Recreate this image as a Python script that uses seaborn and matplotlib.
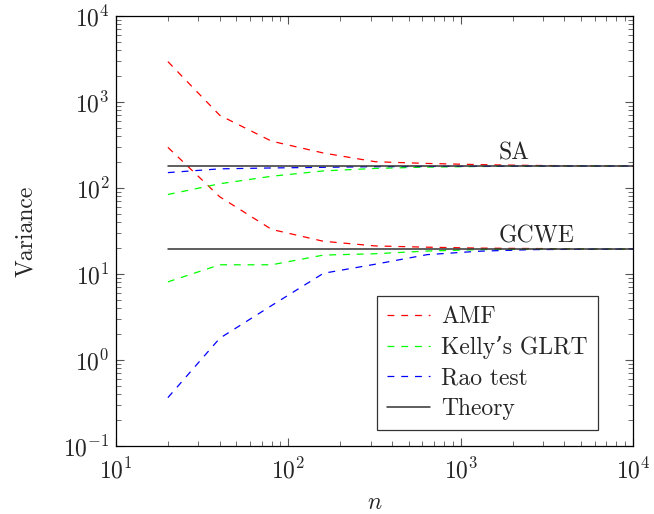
import numpy as np
import pandas as pd
import matplotlib
matplotlib.use("Agg")
import matplotlib.pyplot as plt
from matplotlib.lines import Line2D
import seaborn as sns
from matplotlib.ticker import LogLocator, NullFormatter

# ---- data ----
n = [20, 40, 80, 160, 320, 640, 1280, 2560, 5120, 10000]
amf_sa = [2950, 700, 350, 255, 202, 193, 187, 183, 181, 180]
kelly_sa = [84, 112, 137, 158, 169, 175, 178, 179, 180, 180]
rao_sa = [151, 167, 171, 174, 177, 178, 179, 180, 180, 180]
amf_gcwe = [297, 79, 33, 24, 21.2, 20.5, 20.0, 19.8, 19.6, 19.5]
kelly_gcwe = [8.1, 12.8, 12.8, 16.6, 17.2, 18.5, 19.2, 19.4, 19.5, 19.5]
rao_gcwe = [0.365, 1.79, 4.3, 10.2, 13.0, 16.8, 18.4, 19.2, 19.4, 19.5]
theory_n = [20, 10000]
theory_sa = [180, 180]
theory_gcwe = [19.5, 19.5]
labels = ["AMF", "Kelly\u2019s GLRT", "Rao test", "Theory"]
colors = ["#ff0000", "#00ff00", "#0000ff", "#333333"]

sns.set_style("ticks")
plt.rcParams["font.family"] = ["cmr10", "DejaVu Serif"]
plt.rcParams["mathtext.fontset"] = "cm"
plt.rcParams["axes.formatter.use_mathtext"] = True
plt.rcParams["axes.unicode_minus"] = False
FS = 17

fig = plt.figure(figsize=(6.54, 5.14), dpi=100)
ax = fig.add_axes([116/654, 1-446/514, (633-116)/654, (446-16)/514])

lw = 0.9
dash = (0, (5.5, 5.5))
series = [
    (amf_sa, colors[0]), (amf_gcwe, colors[0]),
    (kelly_sa, colors[1]), (kelly_gcwe, colors[1]),
    (rao_sa, colors[2]), (rao_gcwe, colors[2]),
]
for vals, col in series:
    df = pd.DataFrame({"n": n, "v": vals})
    sns.lineplot(data=df, x="n", y="v", ax=ax, color=col, lw=lw,
                 linestyle=dash, legend=False)
for vals in [theory_sa, theory_gcwe]:
    df = pd.DataFrame({"n": theory_n, "v": vals})
    sns.lineplot(data=df, x="n", y="v", ax=ax, color=colors[3], lw=1.1,
                 legend=False)

ax.set_xscale("log")
ax.set_yscale("log")
ax.set_xlim(10, 1e4)
ax.set_ylim(0.1, 1e4)
ax.xaxis.set_major_locator(LogLocator(base=10, numticks=10))
ax.yaxis.set_major_locator(LogLocator(base=10, numticks=10))
ax.xaxis.set_minor_locator(LogLocator(base=10, subs=np.arange(2, 10), numticks=20))
ax.yaxis.set_minor_locator(LogLocator(base=10, subs=np.arange(2, 10), numticks=20))
ax.xaxis.set_minor_formatter(NullFormatter())
ax.yaxis.set_minor_formatter(NullFormatter())
ax.tick_params(which="both", direction="in", top=True, right=True,
               color="#555555", labelsize=FS)
ax.tick_params(which="major", length=6, width=0.8)
ax.tick_params(which="minor", length=3.5, width=0.6)
ax.tick_params(axis="x", which="major", pad=8.5)
ax.tick_params(axis="y", which="major", pad=4.5)
for s in ax.spines.values():
    s.set_linewidth(0.9)
    s.set_color("black")

ax.set_xlabel("$n$", fontsize=FS, labelpad=6)
ax.set_ylabel("Variance", fontsize=FS, labelpad=19)

xt = 10 ** ((499 - 116) / 172.3 + 1)
ax.annotate("SA", xy=(xt, theory_sa[0]), xytext=(0, 1.0), textcoords="offset points",
            ha="left", va="bottom", fontsize=FS)
ax.annotate("GCWE", xy=(xt, theory_gcwe[0]), xytext=(0, 1.0), textcoords="offset points",
            ha="left", va="bottom", fontsize=FS)

handles = [Line2D([], [], color=c, lw=lw, linestyle=dash) for c in colors[:3]]
handles.append(Line2D([], [], color=colors[3], lw=1.1))
leg = ax.legend(handles, labels, loc="lower right",
                bbox_to_anchor=((598-116)/517, (446-430)/430),
                borderaxespad=0, fontsize=FS, frameon=True, fancybox=False,
                edgecolor="#333333", framealpha=1, handlelength=1.8,
                handletextpad=0.5, labelspacing=0.35, borderpad=0.43)
leg.get_frame().set_linewidth(0.9)

fig.savefig("out.png", dpi=100)
